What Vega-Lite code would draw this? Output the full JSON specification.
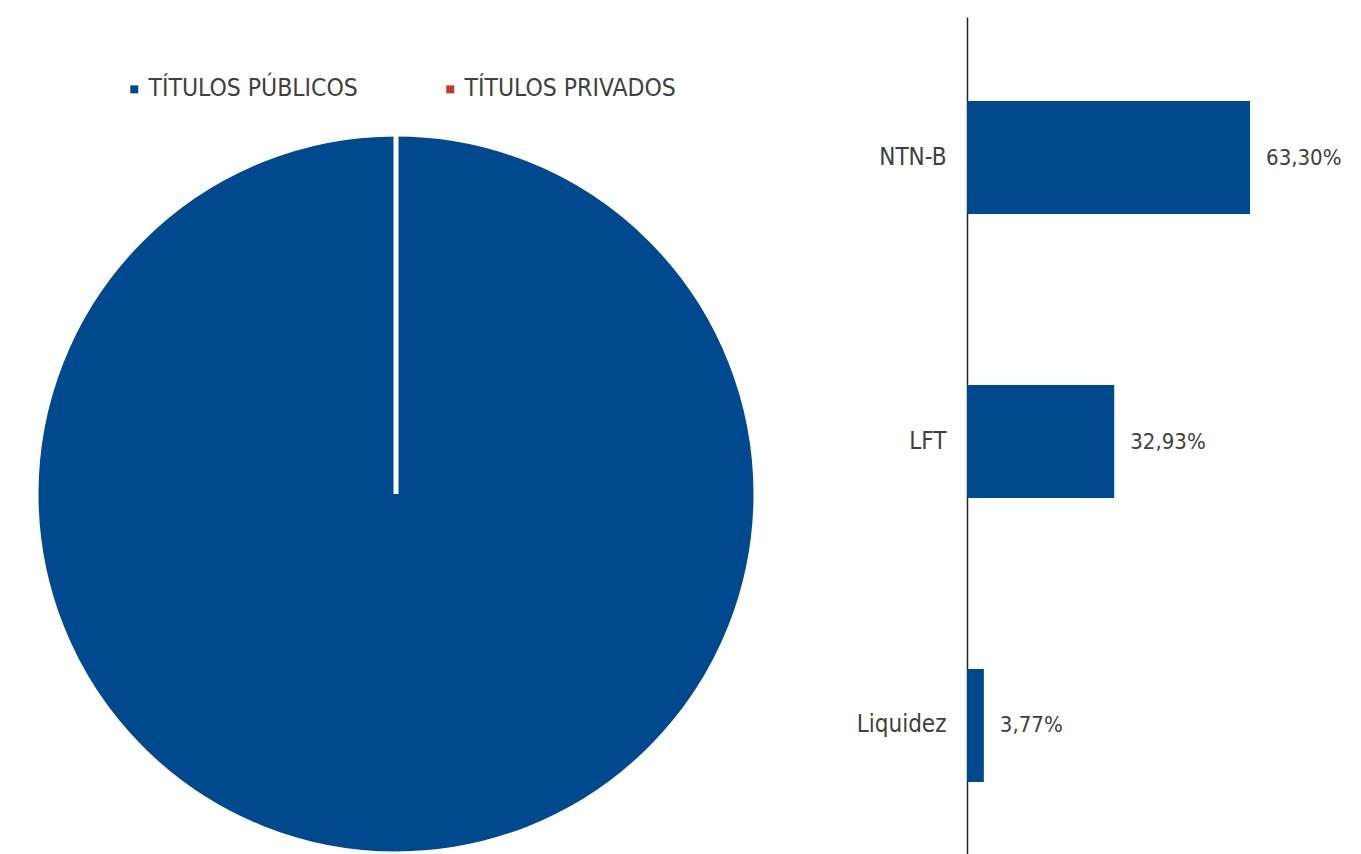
{
  "$schema": "https://vega.github.io/schema/vega-lite/v6.json",
  "padding": {"left": 0, "top": 17, "right": 0, "bottom": 0},
  "autosize": {"type": "pad"},
  "background": "white",
  "bounds": "flush",
  "spacing": 175,
  "config": {
    "view": {"stroke": null},
    "font": "Liberation Sans Narrow, DejaVu Sans Condensed, sans-serif",
    "locale": {"number": {"decimal": ",", "thousands": ".", "grouping": [3], "currency": ["R$", ""]}}
  },
  "datasets": {
    "tipos": [
      {"tipo": "TÍTULOS PÚBLICOS", "valor": 100},
      {"tipo": "TÍTULOS PRIVADOS", "valor": 0}
    ],
    "ativos": [
      {"ativo": "NTN-B", "valor": 0.6330},
      {"ativo": "LFT", "valor": 0.3293},
      {"ativo": "Liquidez", "valor": 0.0377}
    ]
  },
  "hconcat": [
    {
      "width": 792,
      "height": 954,
      "data": {"name": "tipos"},
      "mark": {"type": "arc", "radius": 360, "stroke": "white", "strokeWidth": 5},
      "encoding": {
        "theta": {"field": "valor", "type": "quantitative", "stack": true},
        "order": {"field": "valor", "sort": "descending"},
        "color": {
          "field": "tipo",
          "type": "nominal",
          "sort": ["TÍTULOS PÚBLICOS", "TÍTULOS PRIVADOS"],
          "scale": {"domain": ["TÍTULOS PÚBLICOS", "TÍTULOS PRIVADOS"], "range": ["#00498F", "#BE3A2B"]},
          "legend": {
            "orient": "none",
            "legendX": 122,
            "legendY": 60,
            "direction": "horizontal",
            "title": null,
            "symbolType": "square",
            "symbolSize": 64,
            "symbolStrokeWidth": 0,
            "labelFontSize": 24.5,
            "labelColor": "#404040",
            "labelOffset": 2,
            "columnPadding": 80,
            "labelLimit": 400
          }
        }
      }
    },
    {
      "width": 313,
      "height": 849,
      "data": {"name": "ativos"},
      "encoding": {
        "y": {
          "field": "ativo",
          "type": "nominal",
          "sort": ["NTN-B", "LFT", "Liquidez"],
          "scale": {"paddingInner": 0.602, "paddingOuter": 0.296},
          "axis": {
            "title": null,
            "ticks": false,
            "grid": false,
            "domainColor": "#222222",
            "domainWidth": 1.5,
            "labelFontSize": 24,
            "labelColor": "#404040",
            "labelPadding": 21
          }
        },
        "x": {
          "field": "valor",
          "type": "quantitative",
          "scale": {"domain": [0, 0.7]},
          "axis": null
        }
      },
      "layer": [
        {"mark": {"type": "bar", "color": "#00498F"}},
        {
          "mark": {"type": "text", "align": "left", "baseline": "middle", "dx": 16, "fontSize": 22, "color": "#404040"},
          "encoding": {"text": {"field": "valor", "type": "quantitative", "format": ".2%"}}
        }
      ]
    }
  ]
}
